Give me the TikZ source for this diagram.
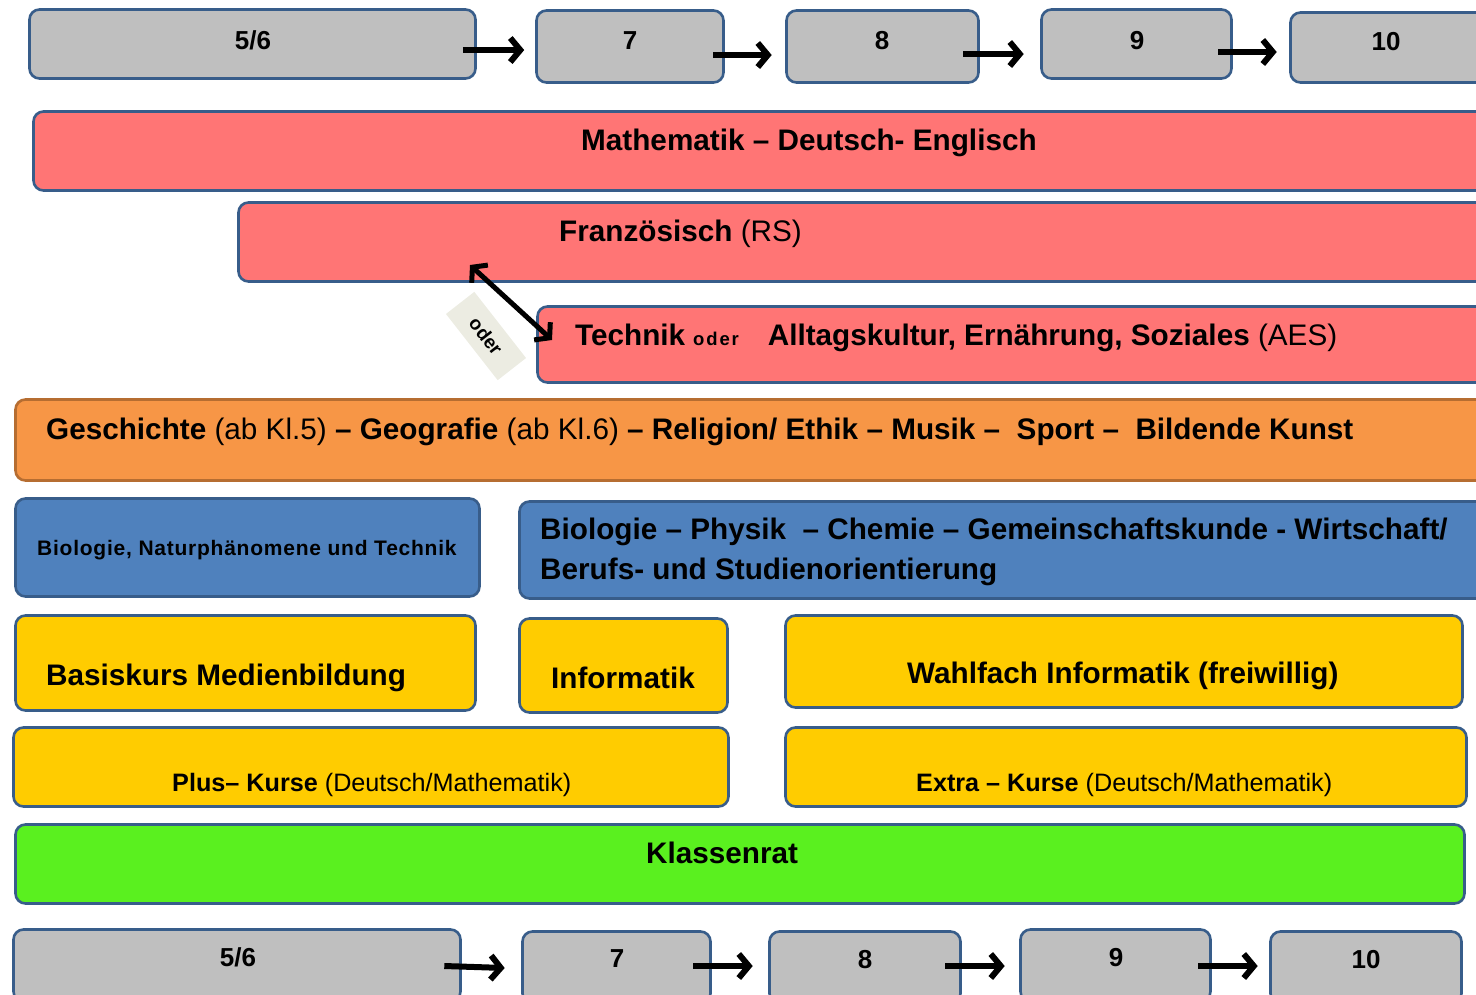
\documentclass[tikz,border=0pt]{standalone}
\usepackage{fontspec}
\setmainfont{Liberation Sans}
\usetikzlibrary{arrows.meta}
\definecolor{bord}{HTML}{385D8A}
\definecolor{greyfill}{HTML}{BFBFBF}
\definecolor{redfill}{HTML}{FF7575}
\definecolor{orangefill}{HTML}{F79646}
\definecolor{orangebord}{HTML}{B66D31}
\definecolor{bluefill}{HTML}{4F81BD}
\definecolor{yellowfill}{HTML}{FFCC00}
\definecolor{greenfill}{HTML}{5AF01F}
\definecolor{oderfill}{HTML}{ECECE2}
\begin{document}
\begin{tikzpicture}[x=1pt,y=-1pt,
  box/.style={draw=bord, line width=2.6pt, rounded corners=10pt, inner sep=0pt},
  gbox/.style={box, fill=greyfill},
  rbox/.style={box, fill=redfill},
  bbox/.style={box, fill=bluefill},
  ybox/.style={box, fill=yellowfill},
  bigtxt/.style={inner sep=0pt, anchor=base west, font=\fontsize{29.7}{40}\selectfont\bfseries},
  midtxt/.style={inner sep=0pt, anchor=base west, font=\fontsize{25.2}{30}\selectfont\bfseries},
  numtxt/.style={inner sep=0pt, anchor=base, font=\fontsize{26}{30}\selectfont\bfseries},
  arr/.style={line width=6pt, -{Straight Barb[length=10pt,width=24pt]}},
  darr/.style={line width=5pt, {Straight Barb[length=10pt,width=24pt]}-{Straight Barb[length=10pt,width=24pt]}}
]
\useasboundingbox (0,0) rectangle (1476,994);
\clip (0,0) rectangle (1476,994);

% top row
\node[gbox, minimum width=446pt, minimum height=69pt] (t56) at (252.5,44) {};
\node[gbox, minimum width=187pt, minimum height=72pt] (t7) at (630,46.5) {};
\node[gbox, minimum width=192pt, minimum height=72pt] (t8) at (882.5,46.5) {};
\node[gbox, minimum width=190pt, minimum height=69pt] (t9) at (1136.5,44) {};
\node[gbox, minimum width=198pt, minimum height=70pt] (t10) at (1389.5,47.5) {};
\node[numtxt] (lt56) at (253,49.5) {5/6};
\node[numtxt] (lt7) at (630,49.5) {7};
\node[numtxt] (lt8) at (882,49.5) {8};
\node[numtxt] (lt9) at (1137,49.5) {9};
\node[numtxt] (lt10) at (1386,50.5) {10};
\draw[arr] ([xshift=-14pt,yshift=-6pt]t56.east) -- ([xshift=-11pt,yshift=-3.5pt]t7.west);
\draw[arr] ([xshift=-11.5pt,yshift=-8.5pt]t7.east) -- ([xshift=-13.5pt,yshift=-8.5pt]t8.west);
\draw[arr] ([xshift=-16.5pt,yshift=-7.5pt]t8.east) -- ([xshift=-16.5pt,yshift=-10pt]t9.west);
\draw[arr] ([xshift=-14.5pt,yshift=-8pt]t9.east) -- ([xshift=-12.5pt,yshift=-4.5pt]t10.west);

% red boxes
\node[rbox, minimum width=1455pt, minimum height=79pt] (math) at (761,151) {};
\node[bigtxt] (lmath) at (581,150.5) {Mathematik -- Deutsch- Englisch};
\node[rbox, minimum width=1250pt, minimum height=79pt] (franz) at (863.5,242) {};
\node[bigtxt] (lfranz) at (559,241.5) {Französisch \mdseries(RS)};
\node[rbox, minimum width=951pt, minimum height=76pt] (tech) at (1013,344.5) {};
\node[bigtxt] (ltech) at (575,345.5) {Technik\hspace{8pt}{\fontsize{18.5}{20}\selectfont\addfontfeatures{LetterSpace=10}oder}\hspace{29pt}Alltagskultur, Ernährung, Soziales \mdseries(AES)};

% oder
\coordinate (oA) at (470,265);
\coordinate (oB) at (552,340);
\node[fill=oderfill, minimum width=84pt, minimum height=36pt, inner sep=0pt, rotate=-52,
      font=\fontsize{19}{22}\selectfont\bfseries] (oder) at (486,336) {oder};
\draw[darr] (oA) -- (oB);

% orange
\node[box, draw=orangebord, fill=orangefill, minimum width=1473pt, minimum height=81pt] (orange) at (752,440) {};
\node[bigtxt] (lorange) at (46,439.5) {Geschichte {\mdseries(ab Kl.5)} -- Geografie {\mdseries(ab Kl.6)} -- Religion/ Ethik -- Musik --\ \ Sport --\ \ Bildende Kunst};

% blue
\node[bbox, minimum width=464pt, minimum height=98pt] (blueL) at (247.5,547.5) {};
\node[inner sep=0pt, anchor=base west, font=\fontsize{21}{25}\selectfont\bfseries\addfontfeatures{LetterSpace=3.6}] (lblueL) at (37,555.5) {Biologie, Naturphänomene und Technik};
\node[bbox, minimum width=969pt, minimum height=97pt] (blueR) at (1004,550) {};
\node[bigtxt, align=left] (lblueR) at (540,579.5) {Biologie -- Physik\ \ -- Chemie -- Gemeinschaftskunde - Wirtschaft/\\Berufs- und Studienorientierung};

% yellow
\node[ybox, minimum width=460pt, minimum height=95pt] (basis) at (245.5,663) {};
\node[bigtxt] (lbasis) at (46,685.5) {Basiskurs Medienbildung};
\node[ybox, minimum width=208pt, minimum height=94pt] (info) at (623.5,665.5) {};
\node[bigtxt] (linfo) at (551,688.5) {Informatik};
\node[ybox, minimum width=677pt, minimum height=92pt] (wahl) at (1124,661.5) {};
\node[bigtxt] (lwahl) at (907,683.5) {Wahlfach Informatik (freiwillig)};
\node[ybox, minimum width=715pt, minimum height=79pt] (plus) at (371,767) {};
\node[midtxt] (lplus) at (172,791.8) {Plus-- Kurse \mdseries(Deutsch/Mathematik)};
\node[ybox, minimum width=681pt, minimum height=79pt] (extra) at (1126,767) {};
\node[midtxt] (lextra) at (916,791.8) {Extra -- Kurse \mdseries(Deutsch/Mathematik)};

% green
\node[box, fill=greenfill, minimum width=1449pt, minimum height=79pt] (green) at (740,864) {};
\node[bigtxt] (lgreen) at (646,863.5) {Klassenrat};

% bottom row
\node[gbox, minimum width=447pt, minimum height=72pt] (b56) at (237,965.5) {};
\node[gbox, minimum width=188pt, minimum height=72pt] (b7) at (616.5,967.5) {};
\node[gbox, minimum width=191pt, minimum height=72pt] (b8) at (865,967.5) {};
\node[gbox, minimum width=190pt, minimum height=72pt] (b9) at (1115.5,965.5) {};
\node[gbox, minimum width=191pt, minimum height=72pt] (b10) at (1366,967.5) {};
\node[numtxt] (lb56) at (238,966.5) {5/6};
\node[numtxt] (lb7) at (617,967.5) {7};
\node[numtxt] (lb8) at (865,968.5) {8};
\node[numtxt] (lb9) at (1116,966.5) {9};
\node[numtxt] (lb10) at (1366,968.5) {10};
\draw[arr] ([xshift=-17.5pt,yshift=-0.5pt]b56.east) -- ([xshift=-16.5pt,yshift=-0.5pt]b7.west);
\draw[arr] ([xshift=-18.5pt,yshift=1.5pt]b7.east) -- ([xshift=-15.5pt,yshift=1.5pt]b8.west);
\draw[arr] ([xshift=-16.5pt,yshift=1.5pt]b8.east) -- ([xshift=-14.5pt,yshift=-0.5pt]b9.west);
\draw[arr] ([xshift=-13.5pt,yshift=-0.5pt]b9.east) -- ([xshift=-11.5pt,yshift=1.5pt]b10.west);
\end{tikzpicture}
\end{document}
